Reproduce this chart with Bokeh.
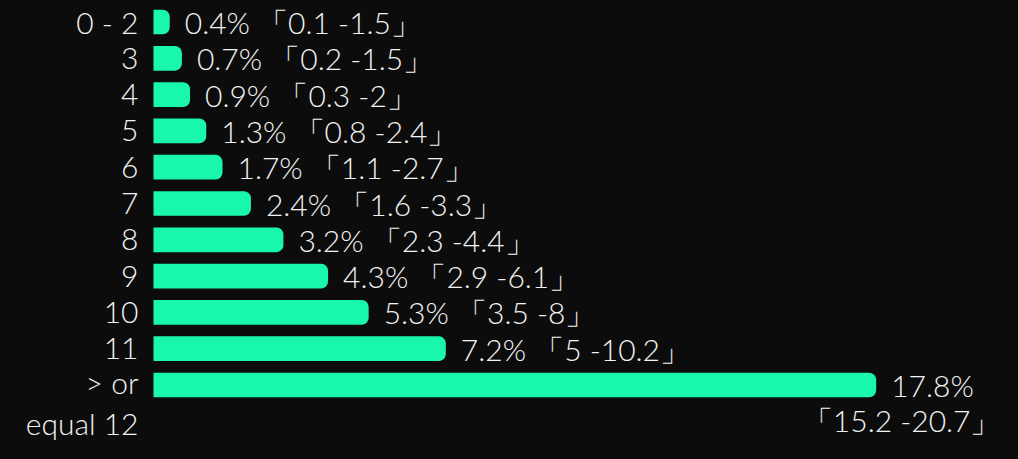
from bokeh.plotting import figure
from bokeh.models import ColumnDataSource, Range1d, Label
from bokeh.core.properties import value
from bokeh.embed import file_html
from bokeh.resources import INLINE

# ---- data ----
categories = ["0 - 2", "3", "4", "5", "6", "7", "8", "9", "10", "11", "> or\nequal 12"]
percent = [0.4, 0.7, 0.9, 1.3, 1.7, 2.4, 3.2, 4.3, 5.3, 7.2, 17.8]
ci_low = [0.1, 0.2, 0.3, 0.8, 1.1, 1.6, 2.3, 2.9, 3.5, 5, 15.2]
ci_high = [1.5, 1.5, 2, 2.4, 2.7, 3.3, 4.4, 6.1, 8, 10.2, 20.7]

# ---- styling ----
BG = "#0c0c0c"
BAR = "#19F7AA"
TXT = "#f2f2f2"
FONT_NAME = "Lato Light"
FONT = value(FONT_NAME)
FSN = 30
FS = f"{FSN}px"
LINE_H = 1.15

def fmt(v):
    return f"{v:g}"

n = len(categories)
idx = list(range(n))
last = n - 1

val_text = []
for i in idx:
    if i == last:
        val_text.append(f"{fmt(percent[i])}%")
    else:
        val_text.append(f"{fmt(percent[i])}% 「{fmt(ci_low[i])} -{fmt(ci_high[i])}」")

cat_offsets = [c.count("\n") * LINE_H * FSN / 2 for c in categories]

src = ColumnDataSource(dict(y=idx, v=percent, cat=categories, vt=val_text,
                            zero=[0] * n, coff=cat_offsets))

W, H = 1002, 443
k = 40.6          # pixels per percent
x0 = 153          # frame pixel of zero
top = 21.5        # pixel centre of first row
step = 36.3       # pixels per row
p = figure(width=W, height=H, output_backend="svg", toolbar_location=None,
           x_range=Range1d(-x0 / k, (W - x0) / k),
           y_range=Range1d((H - top) / step, -top / step),
           min_border=0, background_fill_color=BG, border_fill_color=BG,
           outline_line_color=None)
p.axis.visible = False
p.grid.visible = False

p.hbar(y="y", left="zero", right="v", height=0.68, source=src,
       fill_color=BAR, line_color=None, border_radius=(0, 7, 7, 0))

p.text(x="zero", y="y", text="cat", source=src, x_offset=-15, y_offset="coff",
       text_align="right", text_baseline="middle", text_color=TXT,
       text_font=FONT, text_font_size=FS, text_line_height=LINE_H)

p.text(x="v", y="y", text="vt", source=src, x_offset=15,
       text_align="left", text_baseline="middle", text_color=TXT,
       text_font=FONT, text_font_size=FS)

p.add_layout(Label(x=W - 2, y=last, x_units="screen", y_offset=-LINE_H * FSN,
                   text=f"「{fmt(ci_low[last])} -{fmt(ci_high[last])}」",
                   text_align="right", text_baseline="middle",
                   text_color=TXT, text_font=FONT_NAME, text_font_size=FS))

html = file_html(p, INLINE)
html = html.replace("</head>", f"<style>html, body {{ background: {BG}; }}</style>\n</head>", 1)
open("out.html", "w").write(html)
